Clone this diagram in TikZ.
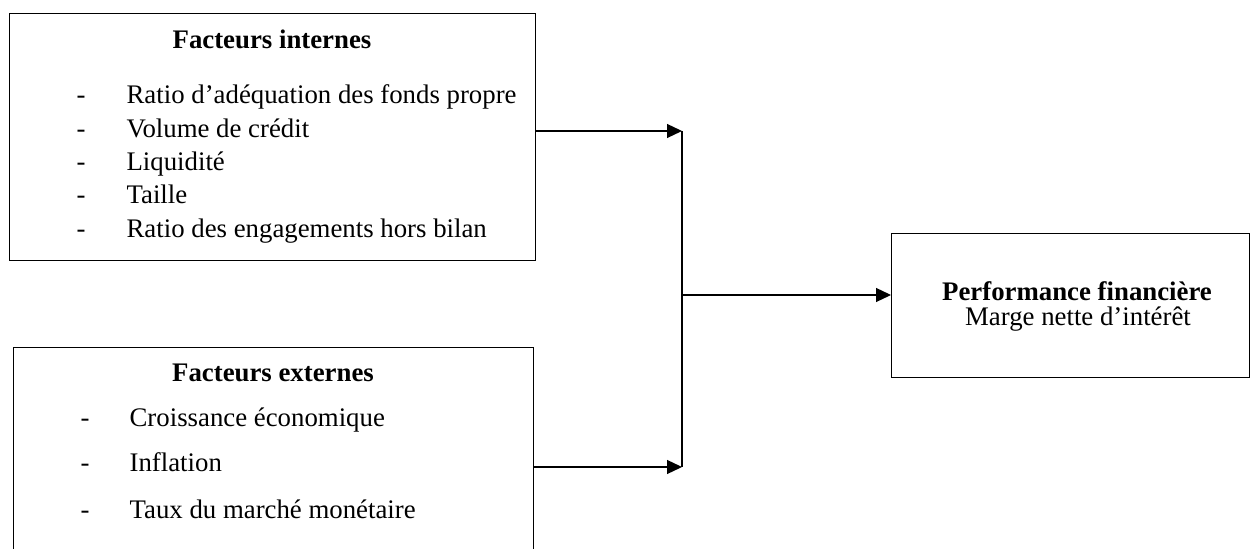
\documentclass[tikz,border=0pt]{standalone}
\usepackage{fontspec}
\setmainfont{Liberation Serif}
\usetikzlibrary{arrows.meta}

\begin{document}
\begin{tikzpicture}[%
      x=0.5pt, y=-0.5pt,
      line width=0.6pt,
      box/.style={draw, rectangle, inner sep=0pt, anchor=north west},
      titre/.style={font=\bfseries\fontsize{13.4}{16}\selectfont, anchor=base, inner sep=0pt},
      item/.style={font=\fontsize{13.4}{16}\selectfont, anchor=base west, inner sep=0pt},
      tiret/.style={font=\fontsize{13.4}{16}\selectfont, anchor=base, inner sep=0pt},
      fleche/.style={-{Triangle[length=7.5pt,width=7pt]}},
      ]
      \useasboundingbox (0,0) rectangle (1251,549);
      \clip (0,0) rectangle (1251,549);

      % boxes
      \node [box, minimum width=263pt, minimum height=123.5pt] (internes) at (9,13) {};
      \node [box, minimum width=260pt, minimum height=107pt] (externes) at (13,347) {};
      \node [box, minimum width=179pt, minimum height=72pt] (perf) at (891,233) {};

      % facteurs internes
      \node [titre] (tint) at (272,49) {Facteurs internes};
      \node [tiret] (d1) at (81,104) {-};
      \node [tiret] (d2) at (81,138) {-};
      \node [tiret] (d3) at (81,171) {-};
      \node [tiret] (d4) at (81,204) {-};
      \node [tiret] (d5) at (81,238) {-};
      \node [item] (i1) at (126,104) {Ratio d’adéquation des fonds propre};
      \node [item] (i2) at (126,138) {Volume de crédit};
      \node [item] (i3) at (126,171) {Liquidité};
      \node [item] (i4) at (126,204) {Taille};
      \node [item] (i5) at (126,238) {Ratio des engagements hors bilan};

      % facteurs externes
      \node [titre] (text) at (273,382) {Facteurs externes};
      \node [tiret] (e1) at (85,427) {-};
      \node [tiret] (e2) at (85,472) {-};
      \node [tiret] (e3) at (85,518) {-};
      \node [item] (x1) at (129,427) {Croissance économique};
      \node [item] (x2) at (129,472) {Inflation};
      \node [item] (x3) at (129,518) {Taux du marché monétaire};

      % performance
      \node [titre] (tperf) at (1077,301) {Performance financière};
      \node [titre, font=\fontsize{13.4}{16}\selectfont] (marge) at (1078,326) {Marge nette d’intérêt};

      % connectors
      \coordinate (j1) at (682,131);
      \coordinate (j2) at (682,467);
      \coordinate (jm) at (682,295);
      \draw [fleche] (internes.east |- j1) -- (j1);
      \draw [fleche] (externes.east |- j2) -- (j2);
      \draw (j1) -- (j2);
      \draw [fleche] (jm) -- (perf.west |- jm);
\end{tikzpicture}
\end{document}
